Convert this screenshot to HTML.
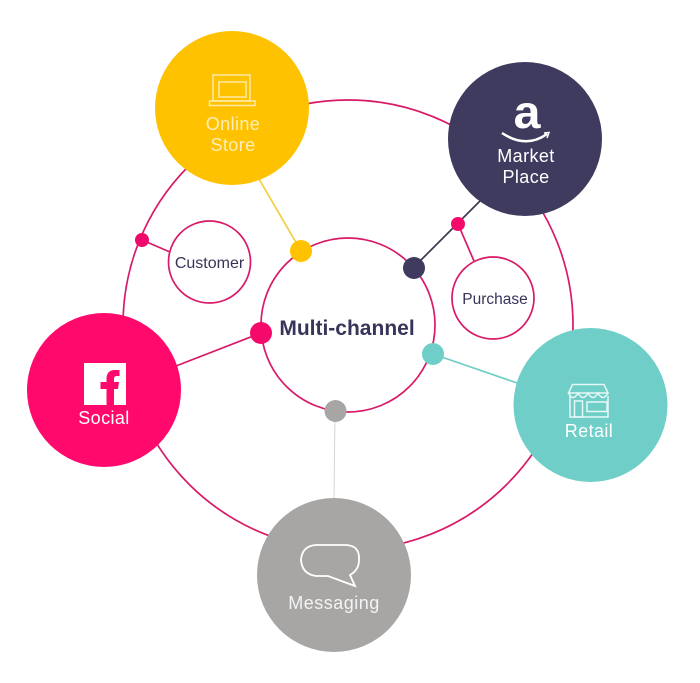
<!DOCTYPE html>
<html>
<head>
<meta charset="utf-8">
<style>
html,body{margin:0;padding:0;background:#fff;width:700px;height:683px;overflow:hidden}
svg{display:block}
text{font-family:"Liberation Sans",sans-serif;text-anchor:middle}
</style>
</head>
<body>
<svg width="700" height="683" viewBox="0 0 700 683" xmlns="http://www.w3.org/2000/svg">
<g fill="none" stroke="#d81a68" stroke-width="1.700">
<circle cx="348" cy="325" r="225"/>
<circle cx="348" cy="325" r="87"/>
<circle cx="209.500" cy="262" r="41"/>
<circle cx="493" cy="298" r="41"/>
<line x1="142" y1="240" x2="170" y2="252"/>
<line x1="458" y1="224" x2="474" y2="261"/>
<line x1="176" y1="366" x2="261" y2="333"/>
</g>
<line x1="259" y1="179" x2="301" y2="251" stroke="#f2ce3a" stroke-width="1.700"/>
<line x1="480" y1="201" x2="414" y2="267" stroke="#3a3a4e" stroke-width="1.700"/>
<line x1="433" y1="354" x2="520" y2="384" stroke="#6fcfc8" stroke-width="1.700"/>
<line x1="335" y1="411" x2="334" y2="500" stroke="#d5d5d5" stroke-width="1"/>

<circle cx="232" cy="108" r="77" fill="#ffc200"/>
<circle cx="525" cy="139" r="77" fill="#3f3b5f"/>
<circle cx="590.500" cy="405" r="77" fill="#6fcfc8"/>
<circle cx="334" cy="575" r="77" fill="#a8a6a5"/>
<circle cx="104" cy="390" r="77" fill="#ff0a6c"/>

<circle cx="301" cy="251" r="11" fill="#ffc200"/>
<circle cx="414" cy="268" r="11" fill="#3f3b5f"/>
<circle cx="433" cy="354" r="11" fill="#6fcfc8"/>
<circle cx="335.500" cy="411" r="11" fill="#a8a6a5"/>
<circle cx="261" cy="333" r="11" fill="#f50a6c"/>
<circle cx="142" cy="240" r="7" fill="#ee0a6c"/>
<circle cx="458" cy="224" r="7" fill="#f50a6c"/>

<!-- laptop -->
<g fill="none" stroke="#ffe9a6" stroke-width="1.500">
<rect x="213" y="75" width="37" height="26"/>
<rect x="219" y="82" width="27" height="15"/>
<rect x="209.500" y="101" width="45.500" height="4.500"/>
</g>
<!-- amazon -->
<text transform="translate(527 128) scale(1.05 1)" font-size="46" font-weight="bold" fill="#fff">a</text>
<path d="M502 133 Q526 149 547 134" fill="none" stroke="#fff" stroke-width="2.500"/>
<path d="M544 133 L549 132.500 L547 138" fill="none" stroke="#fff" stroke-width="1.500"/>
<!-- store -->
<g fill="none" stroke="#e6f7f5" stroke-width="1.500">
<path d="M572.500 384.500 H604 L608 393 H568.500 Z"/>
<path d="M568.500 393 Q573 402 578 393 Q583 402 588 393 Q593 402 598 393 Q603 402 608 393"/>
<path d="M570 396 V417 H608 V396"/>
<rect x="574.500" y="401" width="8" height="16"/>
<rect x="587" y="402" width="20" height="9.500"/>
</g>
<!-- speech bubble -->
<path d="M316 545 H345 Q360 545 359 560 Q359 570 350 575 L355 586 L328 576 H316 Q302 574 301 560 Q302 546 316 545 Z" fill="none" stroke="#fff" stroke-width="1.800"/>
<!-- facebook -->
<rect x="84" y="363" width="42" height="42" fill="#fff"/>
<path d="M106.500 405 V389 H100.500 V382 H106.500 V378 Q107 370 115 370 H119.500 V376 H116.500 Q114 376 114 379 V382 H119 L118 389 H114 V405 Z" fill="#ff0a6c"/>

<g fill="#ffeeb8" font-size="18" letter-spacing="0.400">
<text x="233" y="130">Online</text>
<text x="233" y="151">Store</text>
</g>
<g fill="#fff" font-size="18" letter-spacing="0.400">
<text x="526" y="162">Market</text>
<text x="526" y="183">Place</text>
<text x="589" y="437">Retail</text>
<text x="104" y="424">Social</text>
</g>
<text x="334" y="609" font-size="18" letter-spacing="0.500" fill="#f3f3f3">Messaging</text>
<text x="209.500" y="268" font-size="16" fill="#37345a">Customer</text>
<text x="495" y="304" font-size="15.500" fill="#37345a">Purchase</text>
<text x="347" y="335" font-size="21" font-weight="bold" fill="#37345a">Multi-channel</text>
</svg>
</body>
</html>
